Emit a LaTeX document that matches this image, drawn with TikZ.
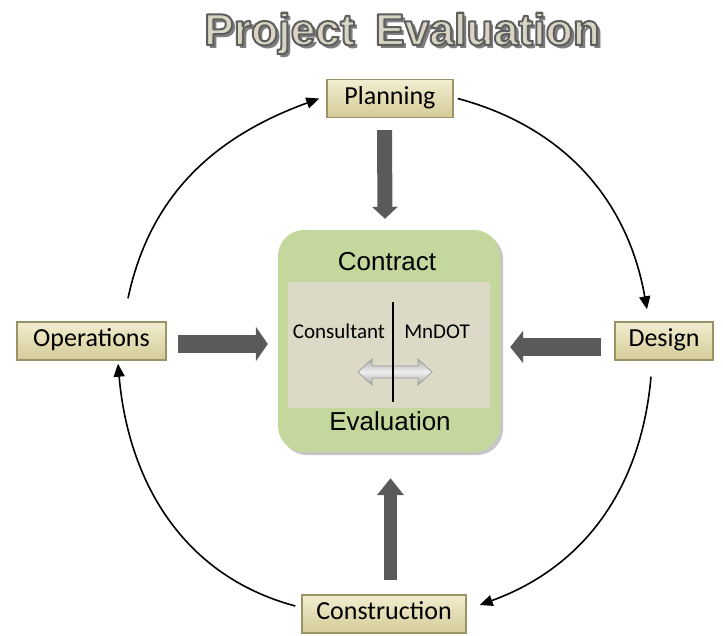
\documentclass[tikz,border=0pt]{standalone}
\usepackage{fontspec}
\setmainfont{Carlito}
\newfontfamily\arialf{Liberation Sans}
\usetikzlibrary{arrows.meta,shadows}

\definecolor{boxtop}{HTML}{F2EDD0}
\definecolor{boxbot}{HTML}{D5CB98}
\definecolor{boxedge}{HTML}{9A9368}
\definecolor{panelgreen}{HTML}{C4D79D}
\definecolor{panelbeige}{HTML}{DCD9C6}
\definecolor{blockgray}{HTML}{5A5A5A}
\definecolor{titlefill}{HTML}{D8D6C3}
\definecolor{titleshade}{HTML}{7E7E7E}

\def\prjtitle{Project\hspace{0.45em}Evaluation}
% outlined glyphs: fill, then stroke in dark gray
\def\outlineon{\special{pdf:literal direct 0.37 0.37 0.37 RG 2 w 1 j 2 Tr}}
\def\outlineoff{\special{pdf:literal direct 0 Tr}}
% title with its drop shadow set behind it
\def\shadedtitle{\makebox[0pt][l]{\hspace{3.5pt}\raisebox{-3.5pt}{\textcolor{titleshade}{\prjtitle}}}\outlineon\prjtitle\outlineoff}

\begin{document}
\begin{tikzpicture}[x=1pt,y=1pt,
  stage/.style={draw=boxedge, line width=1.4pt, top color=boxtop, bottom color=boxbot,
    minimum height=38pt, inner xsep=0pt, text height=17.5pt, text depth=6pt,
    font=\fontsize{26}{30}\selectfont, text=black},
  titletext/.style={anchor=base, inner sep=0pt, font=\arialf\bfseries\fontsize{44.5}{50}\selectfont},
  flow/.style={-{Triangle[length=13pt,width=11pt]}, line width=1.6pt, black},
  blockarrow/.style={draw=blockgray, line cap=butt},
  paneltext/.style={anchor=base, inner sep=0pt, font=\arialf\fontsize{26}{30}\selectfont},
  sidetext/.style={anchor=base, inner sep=0pt, font=\fontsize{21}{25}\selectfont}
]
\useasboundingbox (0,0) rectangle (723,-635);

% ---- title ----
\node[titletext, text=titlefill] (title) at (402,-45) {\shadedtitle};

% ---- project stages ----
\node[stage, minimum width=126pt] (plan) at (390,-98.5) {Planning};
\node[stage, minimum width=149pt] (ops)  at (91.5,-341) {Operations};
\node[stage, minimum width=98pt]  (des)  at (664,-341) {Design};
\node[stage, minimum width=164pt] (cons) at (384,-614) {Construction};

% ---- central panel ----
\node[fill=panelgreen, rounded corners=26pt, minimum width=222pt, minimum height=222pt,
  inner sep=0pt, drop shadow={shadow xshift=3pt, shadow yshift=-3pt, opacity=0.45}]
  (ctr) at (389,-341) {};
\node[fill=panelbeige, minimum width=202pt, minimum height=126pt, inner sep=0pt]
  (inner) at (389,-345) {};
\node[paneltext] (contract) at (387,-270) {Contract};
\node[paneltext] (evaluation) at (390,-430) {Evaluation};
\node[sidetext] (consultant) at (339,-338) {Consultant};
\node[sidetext] (mndot) at (437,-338) {MnDOT};

% two-way exchange arrow
\path[draw=gray!80, line width=0.7pt, top color=gray!65, bottom color=gray!70, middle color=gray!12]
  (358,-372) -- (372,-359) -- (372,-366) -- (418,-366) -- (418,-359) -- (432,-372)
  -- (418,-385) -- (418,-378) -- (372,-378) -- (372,-385) -- cycle;
% divider between the two parties
\coordinate (divtop) at (393,-302);
\coordinate (divbot) at (393,-402);
\draw[line width=2.2pt, black] (divtop) -- (divbot);

% ---- block arrows into the panel ----
\draw[blockarrow, line width=15pt, -{Triangle[width=25pt,length=12pt]}]
  ([xshift=-5.5pt,yshift=-12pt]plan.south) -- ([xshift=-4pt,yshift=11pt]ctr.north);
\draw[blockarrow, line width=18pt, -{Triangle[width=34pt,length=12pt]}]
  ([xshift=11pt,yshift=-3pt]ops.east) -- ([xshift=-10pt,yshift=-3pt]ctr.west);
\draw[blockarrow, line width=18pt, -{Triangle[width=32pt,length=13pt]}]
  ([xshift=-13pt,yshift=-6pt]des.west) -- ([xshift=10pt,yshift=-6pt]ctr.east);
\draw[blockarrow, line width=13pt, -{Triangle[width=26pt,length=17pt]}]
  ([xshift=6.5pt,yshift=14pt]cons.north) -- ([xshift=1.5pt,yshift=-26pt]ctr.south);

% ---- cycle of stages ----
\draw[flow] ([shift={(36.5,23)}]ops.north) to[out=78,in=200] ([xshift=-7pt]plan.west);
\draw[flow] ([xshift=4pt]plan.east) to[out=-15,in=100] ([shift={(-17,12)}]des.north);
\draw[flow] ([shift={(-13,-16)}]des.south) to[out=-95,in=20] ([shift={(13,9)}]cons.east);
\draw[flow] ([shift={(-6,8)}]cons.west) to[out=165,in=-85] ([shift={(26.5,-3)}]ops.south);
\end{tikzpicture}
\end{document}
